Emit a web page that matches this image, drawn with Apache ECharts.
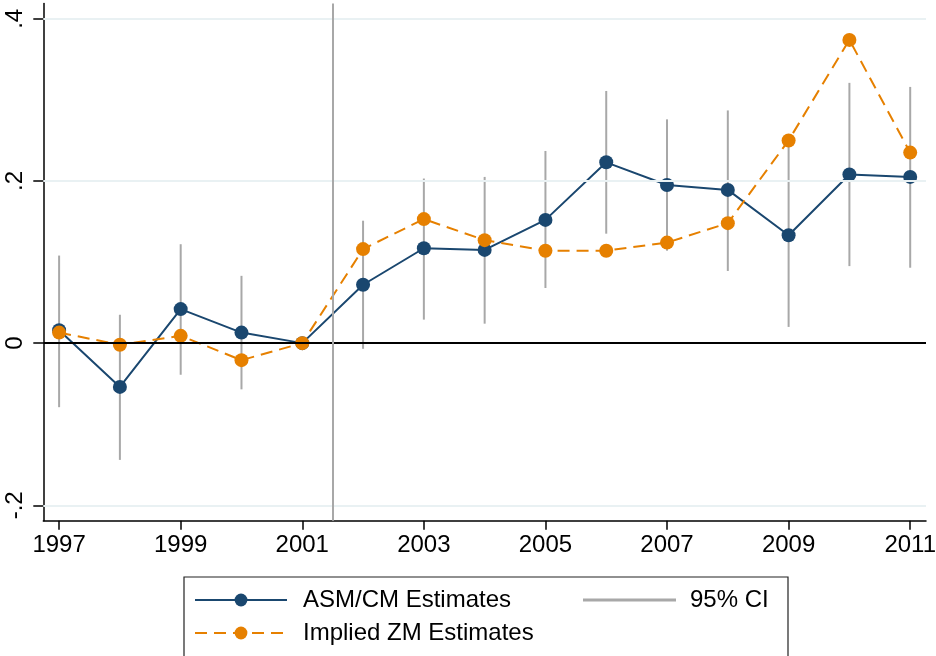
<!DOCTYPE html>
<html>
<head>
<meta charset="utf-8">
<script src="https://cdn.jsdelivr.net/npm/echarts@6/dist/echarts.min.js"></script>
<style>
html,body{margin:0;padding:0;background:#fff;}
#chart{width:936px;height:656px;}
</style>
</head>
<body>
<div id="chart"></div>
<script>
// ---- data ----
var years = [1997,1998,1999,2000,2001,2002,2003,2004,2005,2006,2007,2008,2009,2010,2011];
var asmEstimates = [0.016,-0.054,0.042,0.013,0,0.072,0.117,0.115,0.152,0.223,0.195,0.189,0.133,0.208,0.205];
var zmEstimates  = [0.013,-0.002,0.009,-0.021,0,0.116,0.153,0.127,0.114,0.114,0.124,0.148,0.250,0.374,0.235];
var ciLow  = [-0.079,-0.144,-0.039,-0.057,null,-0.007,0.029,0.024,0.068,0.135,0.114,0.089,0.020,0.095,0.093];
var ciHigh = [0.108,0.035,0.122,0.083,null,0.151,0.203,0.205,0.237,0.311,0.276,0.287,0.245,0.321,0.316];
var xTicks = [1997,1999,2001,2003,2005,2007,2009,2011];
var yTicks = [-0.2,0,0.2,0.4];
var gridValues = [-0.2,0.2,0.4];
var eventYear = 2001.5;
var seriesNames = ['ASM/CM Estimates','Implied ZM Estimates','95% CI'];

// ---- build ----
var FONT = "'Liberation Sans', Arial, sans-serif";
var BLUE = '#1a476f', ORANGE = '#e68000', GRAY = '#a8a8a8';

function pairs(vals){ return years.map(function(y,i){ return [y, vals[i]]; }); }
var ciData = years.map(function(y,i){ return [y, ciLow[i], ciHigh[i]]; })
                  .filter(function(d){ return d[1] !== null; });

var chart = echarts.init(document.getElementById('chart'), null, {renderer:'canvas'});
var option = {
  animation: false,
  backgroundColor: '#fff',
  textStyle: {fontFamily: FONT},
  grid: {left: 43.3, right: 10, top: 3.4, bottom: 135.3, containLabel: false, outerBoundsMode: 'none'},
  xAxis: {
    type: 'value', min: 1996.74, max: 2011.26,
    axisLine: {show: true, onZero: false, lineStyle: {color: '#000', width: 1.5}},
    axisTick: {show: true, length: 9, customValues: xTicks, lineStyle: {color: '#000', width: 1.5}},
    axisLabel: {customValues: xTicks, margin: 13, fontSize: 24, color: '#000', fontFamily: FONT,
      formatter: function(v){ return String(v); }},
    splitLine: {show: false}
  },
  yAxis: {
    type: 'value', min: -0.219, max: 0.419,
    axisLine: {show: true, onZero: false, lineStyle: {color: '#000', width: 1.5}},
    axisTick: {show: true, length: 10, customValues: yTicks, lineStyle: {color: '#000', width: 1.5}},
    axisLabel: {customValues: yTicks, rotate: 90, margin: 16, fontSize: 24, color: '#000', fontFamily: FONT,
      formatter: function(v){ return v === 0 ? '0' : String(Math.round(v*10)/10).replace('0.', '.'); }},
    splitLine: {show: false}
  },
  legend: [
    {
      data: [seriesNames[0], seriesNames[1]],
      orient: 'vertical', left: 194, top: 588, padding: 0, itemGap: 9,
      itemWidth: 92, itemHeight: 16,
      textStyle: {fontSize: 24, lineHeight: 24, color: '#000', fontFamily: FONT, padding: [0,0,0,11]},
      selectedMode: false
    },
    {
      data: [{name: seriesNames[2], icon: 'rect'}],
      orient: 'vertical', left: 583, top: 588, padding: 0,
      itemWidth: 93, itemHeight: 3,
      textStyle: {fontSize: 24, lineHeight: 24, color: '#000', fontFamily: FONT, padding: [0,0,0,9]},
      selectedMode: false
    }
  ],
  graphic: [{
    type: 'rect', z: 100,
    shape: {x: 184, y: 577, width: 604, height: 100},
    style: {fill: 'none', stroke: '#222', lineWidth: 1.2}
  }],
  series: [
    {
      name: 'ref', type: 'line', z: 1, data: [[1997, 0]], showSymbol: false, symbol: 'none',
      lineStyle: {opacity: 0}, silent: true,
      markLine: {
        silent: true, symbol: 'none', animation: false, label: {show: false},
        data: gridValues.map(function(v){ return {yAxis: v, lineStyle: {color: '#e9f1f3', width: 2, type: 'solid'}}; })
          .concat([
            {yAxis: 0, lineStyle: {color: '#000', width: 2, type: 'solid'}},
            {xAxis: eventYear, lineStyle: {color: GRAY, width: 2, type: 'solid'}}
          ])
      }
    },
    {
      name: seriesNames[2], type: 'custom', z: 2,
      itemStyle: {color: GRAY},
      encode: {x: 0, y: [1, 2]},
      data: ciData,
      renderItem: function(params, api){
        var p1 = api.coord([api.value(0), api.value(1)]);
        var p2 = api.coord([api.value(0), api.value(2)]);
        return {type: 'line', shape: {x1: p1[0], y1: p1[1], x2: p2[0], y2: p2[1]},
          style: {stroke: GRAY, lineWidth: 2}};
      }
    },
    {
      name: seriesNames[0], type: 'line', z: 3, data: pairs(asmEstimates),
      symbol: 'circle', symbolSize: 14, showSymbol: true,
      itemStyle: {color: BLUE},
      lineStyle: {color: BLUE, width: 2}
    },
    {
      name: seriesNames[1], type: 'line', z: 4, data: pairs(zmEstimates),
      symbol: 'circle', symbolSize: 14, showSymbol: true,
      itemStyle: {color: ORANGE},
      lineStyle: {color: ORANGE, width: 2, type: [12, 7]}
    }
  ]
};
chart.setOption(option);
</script>
</body>
</html>
